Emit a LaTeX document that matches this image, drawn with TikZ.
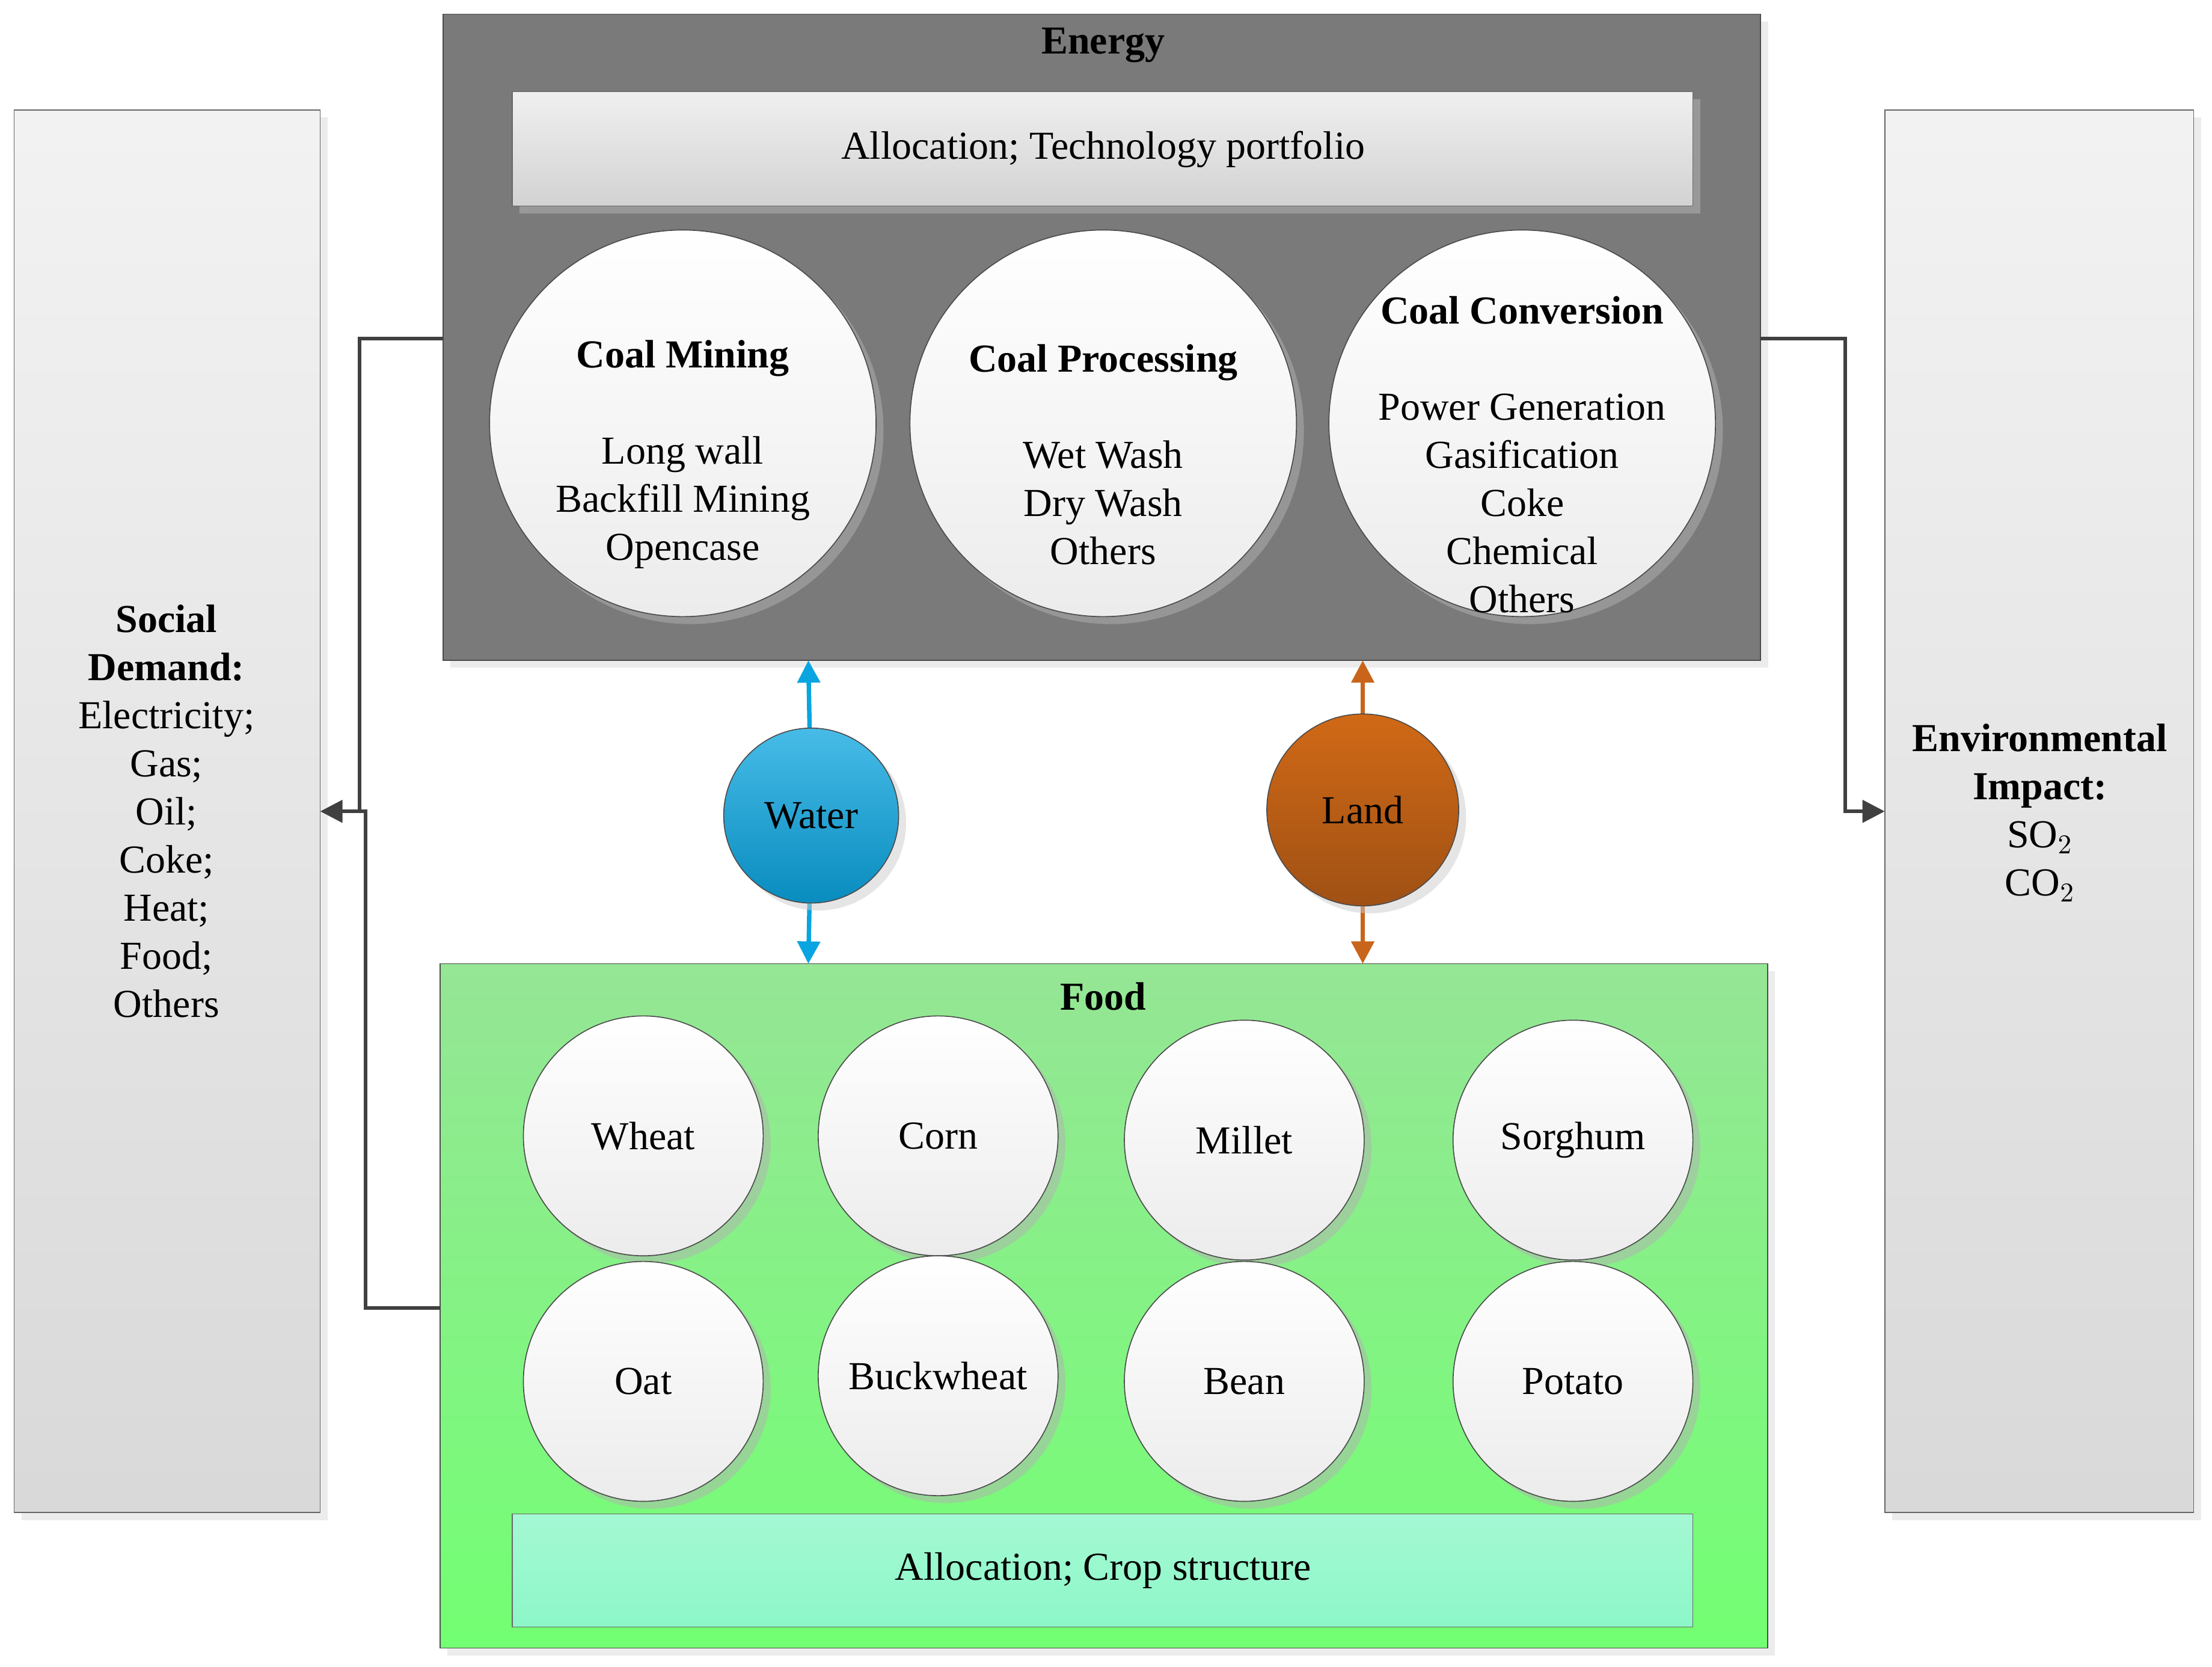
\documentclass[tikz,border=0pt]{standalone}
\usepackage{fontspec}
\setmainfont{Liberation Serif}
\usetikzlibrary{arrows.meta,shadows}
\begin{document}
\begin{tikzpicture}[x=0.02cm,y=-0.02cm,
  txt/.style={font=\fontsize{16}{19.4}\selectfont,align=center},
  bigc/.style={circle,draw=black!70,minimum size=274*0.02cm,inner sep=0pt,top color=white,bottom color=gray!15,drop shadow={shadow xshift=3pt,shadow yshift=-3pt,fill=gray!60},txt},
  crop/.style={circle,draw=black!70,minimum size=170*0.02cm,inner sep=0pt,top color=white,bottom color=gray!15,drop shadow={shadow xshift=3pt,shadow yshift=-3pt,fill=gray!60},txt},
  side/.style={draw=black!60,top color=gray!10,bottom color=gray!30,drop shadow={shadow xshift=3pt,shadow yshift=-3pt,fill=gray!30}},
  conn/.style={draw=black!75,line width=1.4pt,-{Triangle[length=9pt,width=9pt]}},
  plain/.style={draw=black!75,line width=1.4pt}]
\useasboundingbox (0,0) rectangle (1568,1181);
% side boxes
\path[side] (10,78) rectangle (227,1072);
\node[txt] (soc) at (118,575) {\textbf{Social}\\\textbf{Demand:}\\Electricity;\\Gas;\\Oil;\\Coke;\\Heat;\\Food;\\Others};
\coordinate (socin) at (227,575);
\path[side] (1336,78) rectangle (1555,1072);
\node[txt] (env) at (1446,576) {\textbf{Environmental}\\\textbf{Impact:}\\SO$_2$\\CO$_2$};
\coordinate (envin) at (1336,575);
% energy
\path[draw=black!70,fill=black!52,drop shadow={shadow xshift=3pt,shadow yshift=-3pt,fill=gray!30}] (314,10) rectangle (1248,468);
\node[txt,font=\fontsize{16}{19}\selectfont\bfseries] (energy) at (782,32) {Energy};
\path[draw=black!60,top color=gray!12,bottom color=gray!35,drop shadow={shadow xshift=3pt,shadow yshift=-3pt,fill=gray!55}] (363,65) rectangle (1200,146);
\node[txt] (alloc1) at (782,106) {Allocation; Technology portfolio};
\node[bigc] (mining) at (484,300) {};
\node[txt] at (484,322) {\textbf{Coal Mining}\\[19.4pt]Long wall\\Backfill Mining\\Opencase};
\node[bigc] (proc) at (782,300) {};
\node[txt] at (782,322) {\textbf{Coal Processing}\\[19.4pt]Wet Wash\\Dry Wash\\Others};
\node[bigc] (conv) at (1079,300) {};
\node[txt] at (1079,322) {\textbf{Coal Conversion}\\[19.4pt]Power Generation\\Gasification\\Coke\\Chemical\\Others};
\coordinate (eL) at (314,240); \coordinate (eR) at (1248,240);
\coordinate (eW) at (573,468); \coordinate (eLd) at (966,468);
% food
\path[draw=black!70,top color=green!35!white!90!black,bottom color=green!55,drop shadow={shadow xshift=3pt,shadow yshift=-3pt,fill=gray!30}] (312,683) rectangle (1253,1168);
\node[txt,font=\fontsize{16}{19}\selectfont\bfseries] (food) at (782,706) {Food};
\foreach \n/\t/\x/\y in {wheat/Wheat/456/805,corn/Corn/665/805,millet/Millet/882/808,sorghum/Sorghum/1115/808,oat/Oat/456/979,buck/Buckwheat/665/975,bean/Bean/882/979,potato/Potato/1115/979}
  \node[crop] (\n) at (\x,\y) {\t};
\definecolor{aqua}{HTML}{8DF7C8}
\path[draw=black!60,top color=aqua!80!white,bottom color=aqua] (363,1073) rectangle (1200,1153);
\node[txt] (alloc2) at (782,1113) {Allocation; Crop structure};
\coordinate (fL) at (312,927);
\coordinate (fW) at (573,683); \coordinate (fLd) at (966,683);
% water and land
\definecolor{wblue}{HTML}{0AA5E0}
\definecolor{lbrown}{HTML}{C8651A}
\draw[wblue,line width=1.8pt,-{Triangle[length=9pt,width=9pt]}] (575,578) -- (eW);
\draw[wblue,line width=1.8pt,-{Triangle[length=9pt,width=9pt]}] (575,578) -- (fW);
\draw[lbrown,line width=1.8pt,-{Triangle[length=9pt,width=9pt]}] (966,574) -- (eLd);
\draw[lbrown,line width=1.8pt,-{Triangle[length=9pt,width=9pt]}] (966,574) -- (fLd);
\node[circle,draw=black!70,minimum size=124*0.02cm,top color=wblue!75!white,bottom color=wblue!85!black,drop shadow={shadow xshift=3pt,shadow yshift=-3pt,fill=gray!40},txt] (water) at (575,578) {Water};
\node[circle,draw=black!70,minimum size=136*0.02cm,top color=lbrown!85!orange,bottom color=lbrown!80!black,drop shadow={shadow xshift=3pt,shadow yshift=-3pt,fill=gray!40},txt] (land) at (966,574) {Land};
% connectors
\draw[conn] (eL) -- (255,240) -- (255,575) -- (socin);
\draw[plain] (fL) -- (259,927) -- (259,575) -- (240,575);
\draw[conn] (eR) -- (1308,240) -- (1308,575) -- (envin);
\end{tikzpicture}
\end{document}
